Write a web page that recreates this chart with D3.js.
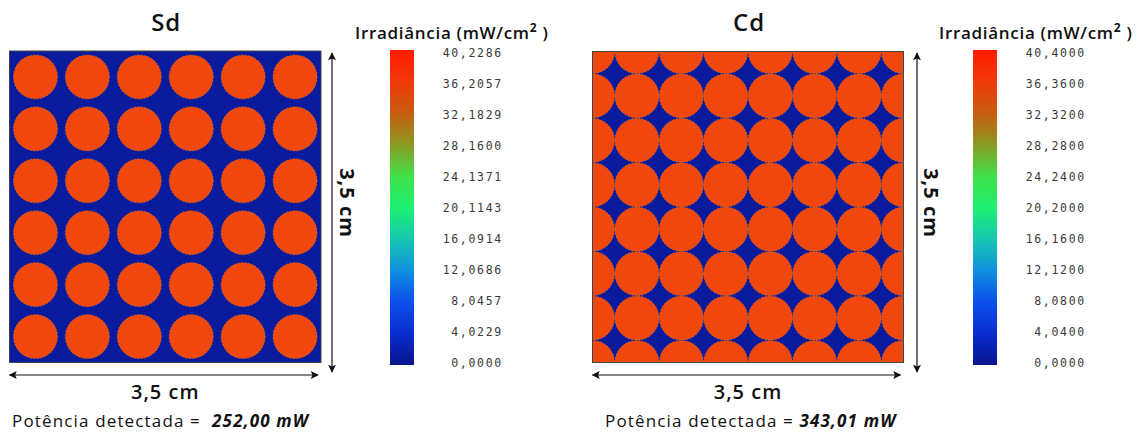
<!DOCTYPE html>
<html><head><meta charset="utf-8">
<script src="https://cdn.jsdelivr.net/npm/d3@7"></script>
<style>
html,body{margin:0;padding:0;background:#fff;}
svg{display:block;}
</style></head>
<body>
<svg id="chart" width="1143" height="434"></svg>
<script>
// ---------- data ----------
const panelNames = ["Sd", "Cd"];
const sdCells = [0, 1, 2, 3, 4, 5];                 // 6 x 6 circles, one per cell
const cdVertices = [0, 1, 2, 3, 4, 5, 6, 7];        // circles on a 7 x 7 grid's vertices
const sdTickValues = [40.2286, 36.2057, 32.1829, 28.1600, 24.1371, 20.1143, 16.0914, 12.0686, 8.0457, 4.0229, 0.0000];
const cdTickValues = [40.4000, 36.3600, 32.3200, 28.2800, 24.2400, 20.2000, 16.1600, 12.1200, 8.0800, 4.0400, 0.0000];
const powerLabels = ["252,00 mW", "343,01 mW"];
const sizeLabel = "3,5 cm";
const colorbarTitle = "Irradiância (mW/cm";
const powerPrefix = ["Potência detectada =  ", "Potência detectada = "];

// ---------- styles ----------
const BLUE = "#0a1a9c", ORANGE = "#f0480c";
const rampStops = [
  [0.00, "#0a148c"], [0.10, "#0a2cd0"], [0.20, "#0c50ec"], [0.30, "#1090e0"],
  [0.40, "#16c8b0"], [0.50, "#1ef070"], [0.60, "#40e048"], [0.70, "#8c9a22"],
  [0.80, "#c85c10"], [0.90, "#f03808"], [1.00, "#ff1c00"]
];

const svg = d3.select("#chart");
const defs = svg.append("defs");
const grad = defs.append("linearGradient").attr("id", "ramp")
  .attr("x1", 0).attr("y1", 1).attr("x2", 0).attr("y2", 0);
rampStops.forEach(s => grad.append("stop").attr("offset", s[0]).attr("stop-color", s[1]));

const mk = defs.append("marker").attr("id", "arr").attr("viewBox", "0 0 10 10")
  .attr("refX", 9).attr("refY", 5).attr("markerWidth", 13).attr("markerHeight", 8)
  .attr("markerUnits", "userSpaceOnUse").attr("orient", "auto-start-reverse");
mk.append("path").attr("d", "M0,0 L10,5 L0,10 L2,5 Z").attr("fill", "#111");

const layouts = [
  {px: 9.5, py: 51, size: 311.5, cbx: 390, arrowX: 332, rotX: 347, labelRight: 503, titleX: 355, powerX: 12},
  {px: 592.5, py: 51.5, size: 311, cbx: 973, arrowX: 917, rotX: 931, labelRight: 1086, titleX: 939, powerX: 605}
];

function drawPanel(i) {
  const L = layouts[i];
  const g = svg.append("g");
  const clipId = "clip" + i;
  defs.append("clipPath").attr("id", clipId).append("rect")
    .attr("x", L.px).attr("y", L.py).attr("width", L.size).attr("height", L.size);

  g.append("rect").attr("x", L.px).attr("y", L.py).attr("width", L.size).attr("height", L.size)
    .attr("fill", BLUE);

  const cg = g.append("g").attr("clip-path", `url(#${clipId})`);
  let pts = [], r;
  if (i === 0) {
    const xs = d3.scaleBand().domain(sdCells).range([L.px, L.px + L.size]);
    const ys = d3.scaleBand().domain(sdCells).range([L.py, L.py + L.size]);
    r = xs.bandwidth() * 0.425;
    sdCells.forEach(a => sdCells.forEach(b => pts.push([xs(a) + xs.bandwidth() / 2, ys(b) + ys.bandwidth() / 2])));
  } else {
    const xs = d3.scaleLinear().domain([0, 7]).range([L.px, L.px + L.size]);
    const ys = d3.scaleLinear().domain([0, 7]).range([L.py, L.py + L.size]);
    r = (xs(1) - xs(0)) / 2 * 0.995;
    cdVertices.forEach(a => cdVertices.forEach(b => pts.push([xs(a), ys(b)])));
  }
  cg.selectAll("circle").data(pts).join("circle")
    .attr("cx", d => d[0]).attr("cy", d => d[1]).attr("r", r)
    .attr("fill", ORANGE).attr("stroke", "#b8a040").attr("stroke-width", 0.9)
    .attr("stroke-opacity", 0.55).attr("stroke-dasharray", "1.5,2");

  g.append("rect").attr("x", L.px).attr("y", L.py).attr("width", L.size).attr("height", L.size)
    .attr("fill", "none").attr("stroke", "#444").attr("stroke-width", 1);

  // panel title
  g.append("text").attr("x", L.px + L.size / 2 + 1).attr("y", 31).attr("text-anchor", "middle")
    .attr("font-family", "Open Sans").attr("font-weight", 600).attr("font-size", 24)
    .attr("letter-spacing", 1).attr("fill", "#111").text(panelNames[i]);

  // vertical arrow
  g.append("line").attr("x1", L.arrowX).attr("x2", L.arrowX).attr("y1", 53).attr("y2", 372)
    .attr("stroke", "#111").attr("stroke-width", 1.2)
    .attr("marker-start", "url(#arr)").attr("marker-end", "url(#arr)");
  g.append("text").attr("transform", `translate(${L.rotX - 7},203) rotate(90)`)
    .attr("text-anchor", "middle").attr("font-family", "Open Sans").attr("font-weight", 700)
    .attr("font-size", 20).attr("letter-spacing", 1).attr("fill", "#111").text(sizeLabel);

  // horizontal arrow
  g.append("line").attr("x1", L.px).attr("x2", L.px + L.size - 3).attr("y1", 375).attr("y2", 375)
    .attr("stroke", "#111").attr("stroke-width", 1.2)
    .attr("marker-start", "url(#arr)").attr("marker-end", "url(#arr)");
  g.append("text").attr("x", L.px + L.size / 2).attr("y", 399).attr("text-anchor", "middle")
    .attr("font-family", "Open Sans").attr("font-weight", 600).attr("font-size", 20)
    .attr("letter-spacing", 1).attr("fill", "#111").text(sizeLabel);

  // detected power
  const pt = g.append("text").attr("x", L.powerX).attr("y", 427)
    .attr("font-family", "Open Sans").attr("font-size", 17).attr("letter-spacing", 1.15)
    .attr("fill", "#111").style("white-space", "pre");
  pt.append("tspan").text(powerPrefix[i]);
  pt.append("tspan").attr("font-style", "italic").attr("font-weight", 700).text(powerLabels[i]);

  // colorbar
  const ticks = i === 0 ? sdTickValues : cdTickValues;
  const cs = d3.scaleLinear().domain([d3.min(ticks), d3.max(ticks)]).range([363, 53]);
  g.append("rect").attr("x", L.cbx).attr("y", 50).attr("width", 24).attr("height", 315)
    .attr("fill", "url(#ramp)");
  const ct = g.append("text").attr("x", L.titleX).attr("y", 39)
    .attr("font-family", "Open Sans").attr("font-weight", 600).attr("font-size", 17)
    .attr("letter-spacing", 0.7).attr("fill", "#111").style("white-space", "pre");
  ct.append("tspan").text(colorbarTitle);
  ct.append("tspan").attr("dy", -7).attr("font-size", 12).attr("font-weight", 700).text("2");
  ct.append("tspan").attr("dy", 7).text(" )");

  const fmt = v => v.toFixed(4).replace(".", ",");
  g.append("g").selectAll("text").data(ticks).join("text")
    .attr("x", L.labelRight).attr("y", d => cs(d)).attr("dy", "0.35em")
    .attr("text-anchor", "end").attr("font-family", "DejaVu Sans Mono")
    .attr("font-size", 11.5).attr("letter-spacing", 1.7).attr("fill", "#3a3a3a")
    .text(fmt);
}

panelNames.forEach((_, i) => drawPanel(i));
</script>
</body></html>
